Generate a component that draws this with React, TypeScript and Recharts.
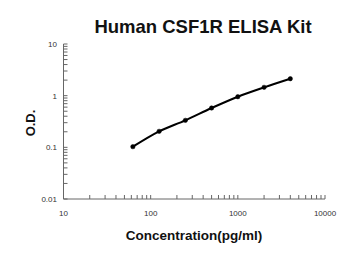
import React from "react";
import { LineChart, Line, XAxis, YAxis } from "recharts";

// standard curve points
const concentrations = [62.5, 125, 250, 500, 1000, 2000, 4000];
const odValues = [0.103, 0.204, 0.333, 0.577, 0.955, 1.45, 2.13];

const xMajor = [10, 100, 1000, 10000];
const yMajor = [0.01, 0.1, 1, 10];

const data = concentrations.map((c, i) => ({ conc: c, od: odValues[i] }));

// log axis ticks: each decade plus 2..9 minor marks
function logTicks(majors: number[]) {
  const out: number[] = [];
  majors.forEach((m, i) => {
    out.push(m);
    if (i < majors.length - 1) {
      for (let k = 2; k <= 9; k++) out.push(+(m * k).toPrecision(6));
    }
  });
  return out;
}

const isMajor = (v: number) => Math.abs(Math.log10(v) - Math.round(Math.log10(v))) < 1e-6;
const fmt = (v: number) => (isMajor(v) ? String(v) : "");

const font = "Arial, 'Liberation Sans', sans-serif";

export default function App() {
  return (
    <div style={{ position: "absolute", left: 0, top: 0, width: 350, height: 255, background: "#fff", fontFamily: font }}>
      <div style={{ position: "absolute", left: 0, width: 350, top: 16, textAlign: "center", paddingLeft: 56, boxSizing: "border-box", fontSize: 18.5, fontWeight: "bold", color: "#111", lineHeight: "22px" }}>
        Human CSF1R ELISA Kit
      </div>
      <LineChart width={350} height={255} data={data} margin={{ top: 44, right: 25, bottom: 36, left: 0 }}>
        <XAxis
          dataKey="conc"
          type="number"
          scale="log"
          domain={[10, 10000]}
          ticks={logTicks(xMajor)}
          interval={0}
          tickFormatter={fmt}
          tickSize={-4}
          tickMargin={15}
          height={20}
          allowDataOverflow
          stroke="#666"
          tick={{ fontSize: 8, fill: "#333", fontFamily: font }}
        />
        <YAxis
          type="number"
          scale="log"
          domain={[0.01, 10]}
          ticks={logTicks(yMajor)}
          interval={0}
          tickFormatter={fmt}
          tickSize={-4}
          tickMargin={10.5}
          width={63.5}
          allowDataOverflow
          stroke="#666"
          tick={{ fontSize: 8, fill: "#333", fontFamily: font }}
        />
        <Line
          dataKey="od"
          type="monotone"
          stroke="#000"
          strokeWidth={2}
          dot={{ r: 2.2, fill: "#000", stroke: "#000", strokeWidth: 0.5 }}
          isAnimationActive={false}
        />
      </LineChart>
      <div style={{ position: "absolute", left: 0, width: 350, top: 228, paddingLeft: 38, boxSizing: "border-box", textAlign: "center", fontSize: 13.5, fontWeight: "bold", color: "#111" }}>
        Concentration(pg/ml)
      </div>
      <div style={{ position: "absolute", left: 30, top: 123, transform: "translate(-50%, -50%) rotate(-90deg)", fontSize: 13, fontWeight: "bold", color: "#111", whiteSpace: "nowrap" }}>
        O.D.
      </div>
    </div>
  );
}
